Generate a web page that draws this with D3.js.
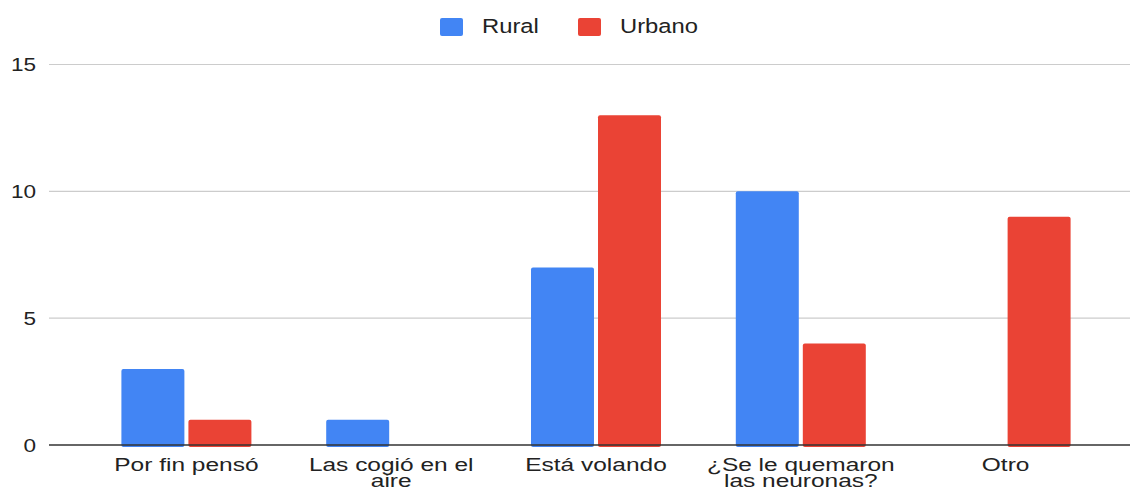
<!DOCTYPE html>
<html>
<head>
<meta charset="utf-8">
<script src="https://cdn.jsdelivr.net/npm/d3@7"></script>
<style>
  body { margin: 0; background: #fff; }
  text { font-family: "Liberation Sans", Arial, sans-serif; fill: #222; }
</style>
</head>
<body>
<script>
const categories = [['Por fin pensó'], ['Las cogió en el', 'aire'], ['Está volando'], ['¿Se le quemaron', 'las neuronas?'], ['Otro']];
const seriesNames = ['Rural', 'Urbano'];
const rural = [3, 1, 7, 10, 0];
const urbano = [1, 0, 13, 4, 9];
const yTicks = [0, 5, 10, 15];
const colors = ['#4285f4', '#ea4335'];

const width = 1130, height = 489;
const sx = 1.22; // horizontal stretch of text
const svg = d3.select('body').append('svg').attr('width', width).attr('height', height);

const keys = categories.map((c, i) => i);
const x0 = d3.scaleBand().domain(keys).range([84, 1108]);
const groupW = 130;
const x1 = d3.scaleBand().domain(seriesNames).range([0, groupW]).paddingInner(0.06);
const y = d3.scaleLinear().domain([0, 15]).range([445, 64.5]);

// gridlines
svg.append('g').selectAll('line')
  .data(yTicks.filter(d => d > 0))
  .enter().append('line')
    .attr('x1', 49).attr('x2', width)
    .attr('y1', d => y(d)).attr('y2', d => y(d))
    .attr('stroke', '#ccc').attr('stroke-width', 1.2);

// y labels
svg.append('g').selectAll('text')
  .data(yTicks)
  .enter().append('text')
    .attr('text-anchor', 'end')
    .attr('font-size', 18.5)
    .attr('transform', d => `translate(36, ${y(d) + 6.5}) scale(${sx},1)`)
    .text(d => d);

// bars
const data = keys.map(i => [rural[i], urbano[i]]);
const groups = svg.append('g').selectAll('g')
  .data(data)
  .enter().append('g')
    .attr('transform', (d, i) => `translate(${x0(i) + (x0.bandwidth() - groupW) / 2},0)`);
groups.selectAll('rect')
  .data(d => d.map((v, j) => ({ v, j })).filter(e => e.v > 0))
  .enter().append('rect')
    .attr('x', e => x1(seriesNames[e.j]))
    .attr('width', x1.bandwidth())
    .attr('y', e => y(e.v))
    .attr('height', e => y(0) - y(e.v) + 2)
    .attr('rx', 2)
    .attr('fill', e => colors[e.j]);

// baseline
svg.append('line')
  .attr('x1', 49).attr('x2', width)
  .attr('y1', y(0)).attr('y2', y(0))
  .attr('stroke', '#333').attr('stroke-width', 1.3);

// category labels (squeezed vertically to fit two lines at the bottom)
const labels = svg.append('g').selectAll('g')
  .data(categories)
  .enter().append('g')
    .attr('transform', (d, i) => `translate(${x0(i) + x0.bandwidth() / 2},0)`);
labels.selectAll('text')
  .data(d => d)
  .enter().append('text')
    .attr('text-anchor', 'middle')
    .attr('font-size', 18)
    .attr('transform', (d, k) => `translate(0, ${471 + k * 16}) scale(1.36,1.05)`)
    .text(d => d);

// legend
const legendX = [440, 578];
const legend = svg.append('g').selectAll('g')
  .data(seriesNames)
  .enter().append('g')
    .attr('transform', (d, i) => `translate(${legendX[i]},18)`);
legend.append('rect')
  .attr('width', 23).attr('height', 18).attr('rx', 2)
  .attr('fill', (d, i) => colors[i]);
legend.append('text')
  .attr('font-size', 19.5)
  .attr('transform', `translate(42, 15) scale(${sx},1)`)
  .text(d => d);
</script>
</body>
</html>
